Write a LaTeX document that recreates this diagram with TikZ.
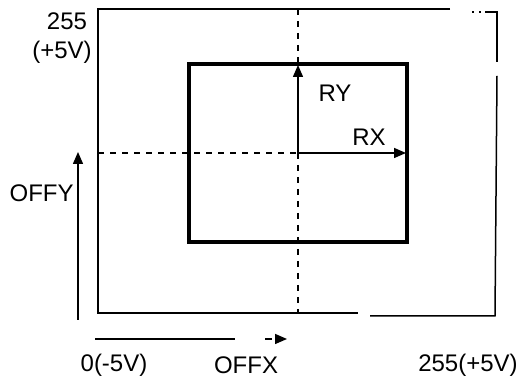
\documentclass[tikz,border=0pt]{standalone}
\usepackage{fontspec}
\setmainfont{Liberation Sans}
\usetikzlibrary{arrows.meta, positioning}
\tikzset{
  frameLine/.style={line width=0.75pt, black},
  boxThick/.style={line width=2pt, black},
  guideDash/.style={line width=0.7pt, black, dash pattern=on 3pt off 3pt},
  arrowT/.style={-{Triangle[length=6pt, width=5pt]}, line width=0.75pt, black},
  lbl/.style={font=\fontsize{12}{14}\selectfont, inner sep=0pt},
}
\begin{document}
\begin{tikzpicture}[x=0.5pt, y=-0.5pt]
  \useasboundingbox (0,0) rectangle (521,383);
  % corners of the outer frame
  \coordinate (fTL) at (98,9);
  \coordinate (fTR) at (497,12);
  \coordinate (fBR) at (495,316);
  \coordinate (fBL) at (98,313);
  % inner window and its centre
  \coordinate (wTL) at (189,64);
  \coordinate (wBR) at (407,242);
  \coordinate (ctr) at (298,153);
  \coordinate (ryEnd) at (298,65);
  \coordinate (rxEnd) at (406,153);
  \coordinate (vTop) at (298,9);
  \coordinate (vBot) at (298,313);
  \coordinate (hLeft) at (98,153);

  % outer frame, with the gaps of the drawing
  \draw[frameLine] (450,9) -- (fTL) -- (fBL) -- (358,313);
  \draw[frameLine] (472,12) -- (474,12) (479,12) -- (481,12);
  \draw[frameLine] (485,12) -- (fTR) -- (497,62);
  \draw[frameLine] (497,76) -- (fBR) -- (370,316);

  % window
  \draw[boxThick] (wTL) rectangle (wBR);

  % dashed centre lines
  \draw[guideDash] (vTop) -- (vBot);
  \draw[guideDash] (hLeft) -- (ctr);

  % radii
  \draw[arrowT] (ctr) -- (ryEnd);
  \draw[arrowT] (ctr) -- (rxEnd);
  \node[lbl] (ry) at (335,93) {RY};
  \node[lbl] (rx) at (369,137) {RX};

  % offsets
  \coordinate (oyBot) at (78,320);
  \coordinate (oyTop) at (78,152);
  \draw[arrowT] (oyBot) -- (oyTop);
  \node[lbl, anchor=east] (offy) at (74,193) {OFFY};
  \coordinate (oxLeft) at (95,339);
  \coordinate (oxRight) at (235,339);
  \coordinate (oxDash) at (265,339);
  \coordinate (oxTip) at (287,339);
  \draw[frameLine] (oxLeft) -- (oxRight);
  \draw[frameLine] (oxDash) -- (272,339);
  \draw[arrowT] (276,339) -- (oxTip);
  \node[lbl] (offx) at (246,365) {OFFX};

  % scale values
  \node[lbl] (top) at (67,21) {255};
  \node[lbl] (topV) at (62,52) {(+5V)};
  \node[lbl] (zero) at (114,365) {0(-5V)};
  \node[lbl] (full) at (468,365) {255(+5V)};
\end{tikzpicture}
\end{document}
